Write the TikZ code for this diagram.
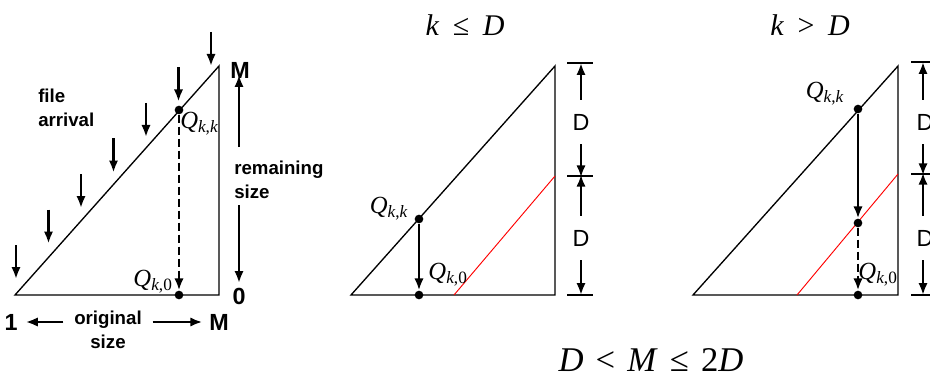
\documentclass[tikz,border=0pt]{standalone}
\usepackage{fontspec}
\usetikzlibrary{arrows.meta}
\setmainfont{Liberation Sans}
\newfontfamily\timesfont{Liberation Serif}
\newcommand{\Qsub}[1]{\textit{Q}\textsubscript{\textit{k},#1}}
\begin{document}
\begin{tikzpicture}[
        x=0.75pt, y=-0.75pt,
        tri/.style={draw, line width=1pt},
        line/.style={draw, -{Latex[length=9pt,width=7pt]}, line width=2pt},
        drop/.style={draw, -{Latex[length=9pt,width=7pt]}, line width=2pt, dash pattern=on 6pt off 3pt},
        shiftline/.style={draw, red, line width=0.7pt},
        tick/.style={draw, line width=0.8pt},
        dot/.style={circle, fill=black, inner sep=0pt, minimum size=6.5pt},
        lbl/.style={font=\bfseries\fontsize{14}{18}\selectfont, align=left, inner sep=0pt},
        big/.style={font=\bfseries\fontsize{17.5}{19}\selectfont, inner sep=0pt},
        dim/.style={font=\fontsize{17.5}{19}\selectfont, inner sep=0pt, minimum height=33pt},
        qlab/.style={font=\timesfont\fontsize{18.5}{20}\selectfont, inner sep=0pt},
        title/.style={font=\timesfont\fontsize{22.5}{24}\selectfont, inner sep=0pt}
    ]
    \useasboundingbox (0,0) rectangle (930,381);
    \clip (0,0) rectangle (930,381);

    % left: file arrivals
    \coordinate (A1) at (15,295);
    \coordinate (B1) at (219,295);
    \coordinate (C1) at (219,66);
    \draw [tri] (A1) -- (B1) -- (C1) -- cycle;
    \foreach \i in {0,...,6} {
        \coordinate (fa\i) at ({16+32.5*\i},{245-35.5*\i});
        \coordinate (fb\i) at ({16+32.5*\i},{279-35.5*\i});
        \path [line] (fa\i) -- (fb\i);
    }
    \node [dot] (qkk1) at (179,110) {};
    \node [dot] (qk01) at (179,295) {};
    \path [drop] (qkk1) -- (qk01);
    \node [qlab, anchor=west] (lkk1) at (180,124) {\Qsub{\textit{k}}};
    \node [qlab] (lk01) at (153,282) {\Qsub{0}};

    \node [lbl, anchor=west] (arr) at (38,108) {file\\arrival};
    \node [big] (mtop) at (240,70) {M};
    \node [big] (zero) at (239,296) {0};
    \node [lbl, anchor=west] (rem) at (234,180) {remaining\\size};
    \coordinate (remup) at (239,147);
    \coordinate (remdn) at (239,205);
    \coordinate (remtop) at (239,75);
    \coordinate (rembot) at (239,283);
    \path [line] (remup) -- (remtop);
    \path [line] (remdn) -- (rembot);

    \node [big] (one) at (11,322) {1};
    \node [big] (mbot) at (219,322) {M};
    \node [lbl, align=center] (orig) at (108,330) {original\\size};
    \path [line, shorten <=8pt, shorten >=6pt] (one -| orig.west) -- (one);
    \path [line, shorten <=8pt, shorten >=5pt] (mbot -| orig.east) -- (mbot);

    % middle: k <= D
    \node [title] (t2) at (465,25) {\textit{k}\hspace{0.45em}≤\hspace{0.45em}\textit{D}};
    \coordinate (A2) at (351,295);
    \coordinate (B2) at (555,295);
    \coordinate (C2) at (555,66);
    \draw [tri] (A2) -- (B2) -- (C2) -- cycle;
    \coordinate (R2a) at (454,295);
    \coordinate (R2b) at (555,176);
    \path [shiftline] (R2a) -- (R2b);
    \node [dot] (qkk2) at (419,219) {};
    \node [dot] (qk02) at (419,295) {};
    \path [line] (qkk2) -- (qk02);
    \node [qlab] (lkk2) at (389,209) {\Qsub{\textit{k}}};
    \node [qlab] (lk02) at (448,275) {\Qsub{0}};
    \foreach \y [count=\j] in {63,176,295} {
        \coordinate (m\j a) at (567,\y);
        \coordinate (m\j b) at (593,\y);
        \path [tick] (m\j a) -- (m\j b);
        \coordinate (m\j) at (581,\y);
    }
    \node [dim] (d21) at (581,122) {D};
    \node [dim] (d22) at (581,238) {D};
    \path [line] (d21.north) -- (m1);
    \path [line] (d21.south) -- ([yshift=-1pt]m2);
    \path [line] (d22.north) -- ([yshift=1pt]m2);
    \path [line] (d22.south) -- (m3);

    % right: k > D
    \node [title] (t3) at (810,25) {\textit{k}\hspace{0.45em}>\hspace{0.45em}\textit{D}};
    \coordinate (A3) at (693,295);
    \coordinate (B3) at (898,295);
    \coordinate (C3) at (898,66);
    \draw [tri] (A3) -- (B3) -- (C3) -- cycle;
    \coordinate (R3a) at (797,295);
    \coordinate (R3b) at (898,174);
    \path [shiftline] (R3a) -- (R3b);
    \node [dot] (qkk3) at (858,109) {};
    \node [dot] (mid3) at (858,223) {};
    \node [dot] (qk03) at (858,295) {};
    \path [line] (qkk3) -- (mid3);
    \path [drop] (mid3) -- (qk03);
    \node [qlab] (lkk3) at (825,94) {\Qsub{\textit{k}}};
    \node [qlab] (lk03) at (878,275) {\Qsub{0}};
    \foreach \y [count=\j] in {62,174,295} {
        \coordinate (n\j a) at (911,\y);
        \coordinate (n\j b) at (940,\y);
        \path [tick] (n\j a) -- (n\j b);
        \coordinate (n\j) at (923,\y);
    }
    \node [dim] (d31) at (925,122) {D};
    \node [dim] (d32) at (925,238) {D};
    \path [line] (d31.north -| n1) -- (n1);
    \path [line] (d31.south -| n1) -- ([yshift=-1pt]n2);
    \path [line] (d32.north -| n1) -- ([yshift=1pt]n2);
    \path [line] (d32.south -| n1) -- (n3);

    % condition
    \node [font=\timesfont\fontsize{26}{28}\selectfont, inner sep=0pt] (cond) at (651,360)
        {\textit{D}\hspace{0.35em}<\hspace{0.35em}\textit{M}\hspace{0.35em}≤\hspace{0.35em}2\textit{D}};
\end{tikzpicture}
\end{document}
